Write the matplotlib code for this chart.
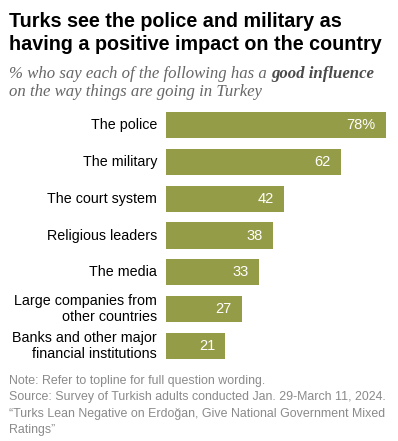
import matplotlib
matplotlib.use("Agg")
import matplotlib.pyplot as plt

categories = ["The police", "The military", "The court system", "Religious leaders",
              "The media", "Large companies from\nother countries",
              "Banks and other major\nfinancial institutions"]
values = [78, 62, 42, 38, 33, 27, 21]
value_labels = ["78%", "62", "42", "38", "33", "27", "21"]

W, H = 398, 441
fig = plt.figure(figsize=(W / 100, H / 100), dpi=100)
fig.patch.set_facecolor("white")

bar_color = "#959c48"
sans = ["Liberation Sans", "DejaVu Sans"]
serif = ["Liberation Serif", "DejaVu Serif"]

def fy(py):
    return 1 - py / H

ax = fig.add_axes([166 / W, fy(364.1), (W - 166) / W, (364.1 - 106.9) / H])
n = len(categories)
ypos = list(range(n))
ax.barh(ypos, values, height=0.71, color=bar_color, edgecolor="none")
ax.set_xlim(0, (W - 166) / 2.82)
ax.set_ylim(n - 0.5, -0.5)
ax.axis("off")

for y, v, lab in zip(ypos, values, value_labels):
    ax.text(v - 3.6, y, lab, ha="right", va="center", color="white",
            fontsize=10.5, family=sans)
for y, c in zip(ypos, categories):
    ax.text(-3.2, y, c, ha="right", va="center", color="black",
            fontsize=10.3, family=sans, linespacing=1.15)

# Title
fig.text(9 / W, fy(26.7), "Turks see the police and military as", ha="left",
         va="baseline", fontsize=14.2, fontweight="bold", family=sans, color="black")
fig.text(9 / W, fy(50.5), "having a positive impact on the country", ha="left",
         va="baseline", fontsize=14.2, fontweight="bold", family=sans, color="black")

# Subtitle with bold part
renderer = fig.canvas.get_renderer()
sub_fs = 12.1
t1 = fig.text(9 / W, fy(77.5), "% who say each of the following has a ", ha="left",
              va="baseline", fontsize=sub_fs, style="italic", family=serif, color="#666666")
bb = t1.get_window_extent(renderer=renderer)
fig.text(bb.x1 / W, fy(77.5), "good influence", ha="left", va="baseline",
         fontsize=sub_fs, style="italic", fontweight="bold", family=serif, color="#4a4a4a")
fig.text(9 / W, fy(95.5), "on the way things are going in Turkey", ha="left",
         va="baseline", fontsize=sub_fs, style="italic", family=serif, color="#666666")

# Notes
notes = ["Note: Refer to topline for full question wording.",
         "Source: Survey of Turkish adults conducted Jan. 29-March 11, 2024.",
         "\u201cTurks Lean Negative on Erdo\u011fan, Give National Government Mixed",
         "Ratings\u201d"]
for i, line in enumerate(notes):
    fig.text(9 / W, fy(384 + i * 16.4), line, ha="left", va="baseline",
             fontsize=8.9, family=sans, color="#8a8a8a")

fig.savefig("out.png", dpi=100, facecolor="white")
